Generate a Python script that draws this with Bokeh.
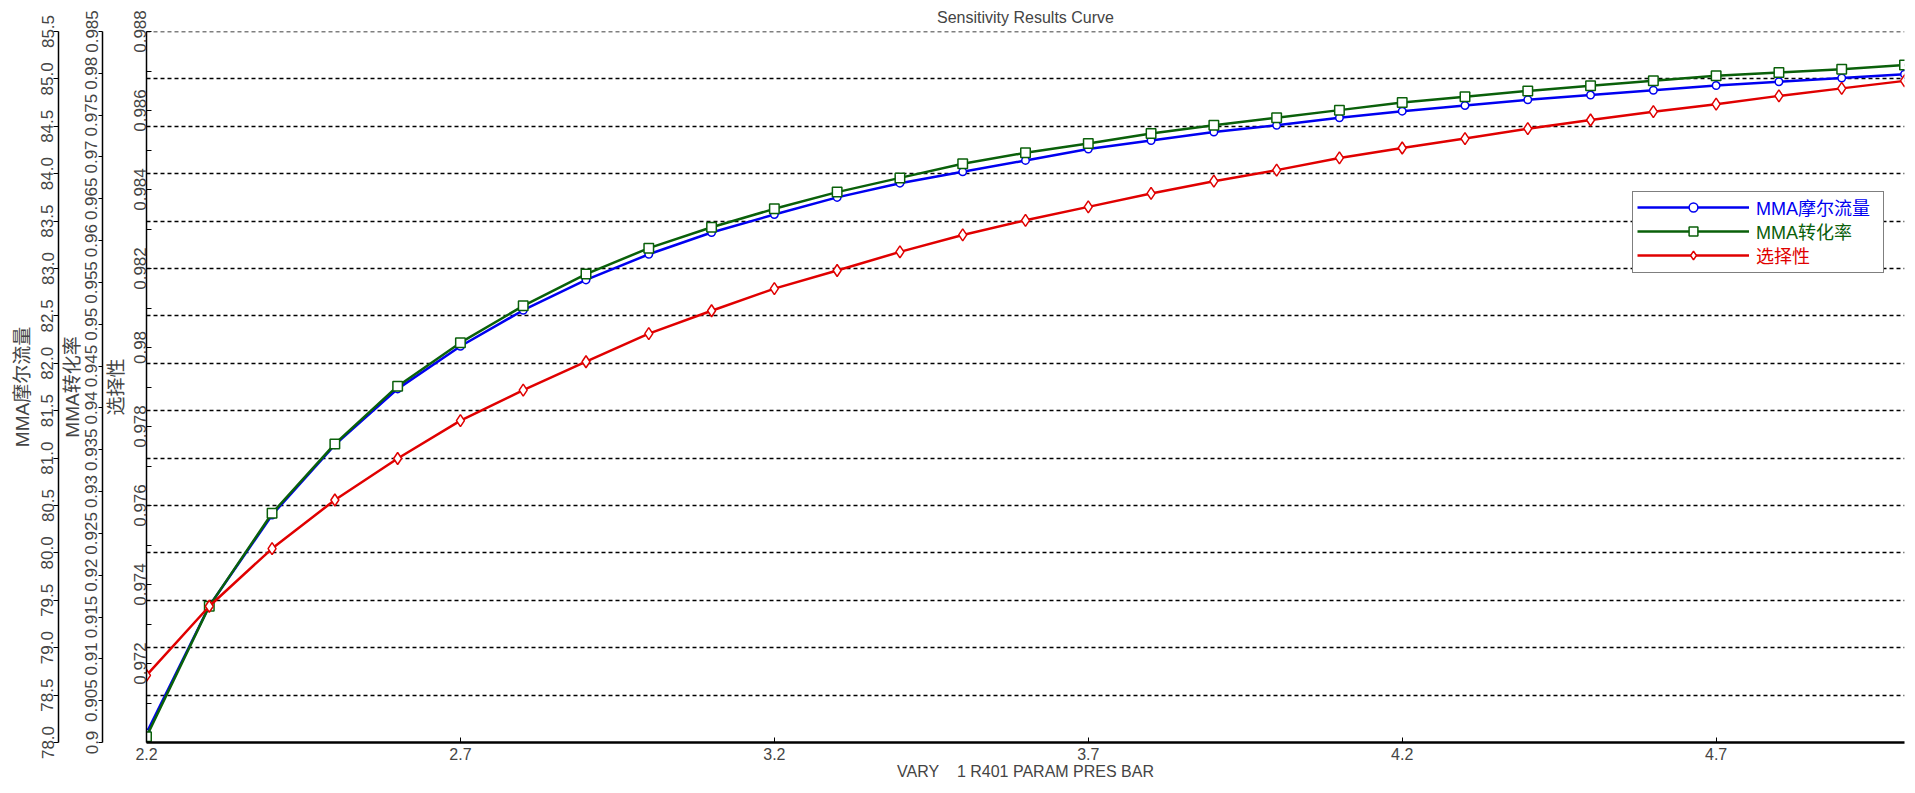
import numpy as np
from bokeh.plotting import figure
from bokeh.models import (Range1d, LinearAxis, FixedTicker, Grid, Legend, LegendItem, Span,
                          CustomJSTickFormatter, PrintfTickFormatter, ColumnDataSource)
from bokeh.embed import file_html
from bokeh.resources import INLINE

# ---------------- data ----------------
pressure = [2.2, 2.3, 2.4, 2.5, 2.6, 2.7, 2.8, 2.9, 3.0, 3.1, 3.2, 3.3, 3.4, 3.5, 3.6,
            3.7, 3.8, 3.9, 4.0, 4.1, 4.2, 4.3, 4.4, 4.5, 4.6, 4.7, 4.8, 4.9, 5.0]
mma_flow = [78.10, 79.44, 80.40, 81.14, 81.73, 82.18, 82.56, 82.88, 83.15, 83.38,
            83.57, 83.75, 83.90, 84.02, 84.14, 84.26, 84.35, 84.44, 84.51, 84.59,
            84.66, 84.72, 84.78, 84.83, 84.88, 84.93, 84.97, 85.01, 85.05]
mma_conversion = [0.9007, 0.9163, 0.9274, 0.9357, 0.9426, 0.9478, 0.9522, 0.9560,
                  0.9591, 0.9616, 0.9638, 0.9658, 0.9675, 0.9692, 0.9705, 0.9716,
                  0.9728, 0.9738, 0.9747, 0.9756, 0.9765, 0.9772, 0.9779, 0.9785,
                  0.9791, 0.9797, 0.9801, 0.9805, 0.9810]
selectivity = [0.97170, 0.97345, 0.97491, 0.97614, 0.97719, 0.97815, 0.97892, 0.97964,
               0.98035, 0.98093, 0.98149, 0.98195, 0.98242, 0.98285, 0.98322, 0.98356,
               0.98390, 0.98421, 0.98449, 0.98480, 0.98505, 0.98529, 0.98554, 0.98576,
               0.98597, 0.98616, 0.98637, 0.98656, 0.98675]

x_ticks = [2.2, 2.7, 3.2, 3.7, 4.2, 4.7]
flow_ticks = [78.0, 78.5, 79.0, 79.5, 80.0, 80.5, 81.0, 81.5, 82.0, 82.5, 83.0, 83.5,
              84.0, 84.5, 85.0, 85.5]
conv_ticks = [0.9, 0.905, 0.91, 0.915, 0.92, 0.925, 0.93, 0.935, 0.94, 0.945, 0.95,
              0.955, 0.96, 0.965, 0.97, 0.975, 0.98, 0.985]
sel_ticks = [0.972, 0.974, 0.976, 0.978, 0.98, 0.982, 0.984, 0.986, 0.988]
sel_minor_ticks = [0.971, 0.973, 0.975, 0.977, 0.979, 0.981, 0.983, 0.985, 0.987]

series_names = ["MMA摩尔流量", "MMA转化率", "选择性"]
title_text = "Sensitivity Results Curve"
x_label = "VARY\u00a0\u00a0\u00a0 1 R401 PARAM PRES BAR"

BLUE = "#0000f0"
GREEN = "#0a600a"
RED = "#e00000"
LATIN = "Liberation Sans"
MIXED = "Liberation Sans, Noto Sans CJK SC"

# ---------------- figure ----------------
p = figure(width=1915, height=793, output_backend="svg", toolbar_location=None,
           x_range=Range1d(2.2, 5.0), y_range=Range1d(78.0, 85.5),
           y_axis_location=None,
           min_border_left=146, min_border_right=11, min_border_top=31, min_border_bottom=51,
           outline_line_color=None, background_fill_color="white",
           border_fill_color="white")
p.extra_y_ranges = {"conv": Range1d(0.9, 0.985), "sel": Range1d(0.970, 0.988)}

p.title.text = title_text
p.title.align = "center"
p.title.text_font = LATIN
p.title.text_font_size = "16px"
p.title.text_font_style = "normal"
p.title.standoff = 12

p.xgrid.visible = False
p.ygrid.visible = False
GRID_STYLE = dict(line_color="black", line_dash="4 3", line_width=1.5)
grid = Grid(dimension=1, ticker=FixedTicker(ticks=flow_ticks), grid_line_color="black",
            grid_line_dash="4 3", grid_line_width=1.5)
p.add_layout(grid)
# Bokeh skips the grid line at the range end; draw the top one explicitly
p.add_layout(Span(location=flow_ticks[-1], dimension="width", **GRID_STYLE))

# x axis
xa = p.xaxis[0]
xa.ticker = FixedTicker(ticks=x_ticks)
xa.formatter = PrintfTickFormatter(format="%.1f")
xa.major_tick_in = 5
xa.major_tick_out = 0
xa.minor_tick_in = 0
xa.minor_tick_out = 0
xa.axis_line_width = 2.5
xa.major_label_text_font = LATIN
xa.major_label_text_font_size = "16px"
xa.major_label_standoff = 5
xa.axis_label = x_label
xa.axis_label_text_font = LATIN
xa.axis_label_text_font_size = "16px"
xa.axis_label_text_font_style = "normal"
xa.axis_label_standoff = 0

trim_fmt = CustomJSTickFormatter(code="return String(parseFloat(tick.toFixed(3)));")


def style_y(ax, tick_in, tick_out, lab_standoff, title_standoff):
    ax.major_label_orientation = "vertical"
    ax.major_label_text_font = LATIN
    ax.major_label_text_font_size = "17px"
    ax.major_tick_in = tick_in
    ax.major_tick_out = tick_out
    ax.minor_tick_in = tick_in
    ax.minor_tick_out = tick_out
    ax.major_label_standoff = lab_standoff
    ax.axis_label_standoff = title_standoff
    ax.axis_label_text_font = MIXED
    ax.axis_label_text_font_size = "19px"
    ax.axis_label_text_font_style = "normal"
    ax.axis_line_width = 1.5


sel_axis = LinearAxis(y_range_name="sel",
                      ticker=FixedTicker(ticks=sel_ticks, minor_ticks=sel_minor_ticks),
                      formatter=trim_fmt, axis_label=series_names[2])
style_y(sel_axis, 5, 0, 1, 4)
p.add_layout(sel_axis, "left")

conv_axis = LinearAxis(y_range_name="conv", ticker=FixedTicker(ticks=conv_ticks),
                       formatter=trim_fmt, axis_label=series_names[1])
style_y(conv_axis, 0, 4, 1, 0)
p.add_layout(conv_axis, "left")

flow_axis = LinearAxis(ticker=FixedTicker(ticks=flow_ticks),
                       formatter=PrintfTickFormatter(format="%.1f"),
                       axis_label=series_names[0])
style_y(flow_axis, 0, 5, 0, 6)
p.add_layout(flow_axis, "left")

# ---------------- series ----------------
src = ColumnDataSource(dict(p=pressure, flow=mma_flow, conv=mma_conversion, sel=selectivity))

bl = p.line("p", "flow", source=src, line_color=BLUE, line_width=2.5)
bm = p.scatter("p", "flow", source=src, marker="circle", size=7.5, line_color=BLUE,
               fill_color="white", line_width=1.5)
gl = p.line("p", "conv", source=src, y_range_name="conv", line_color=GREEN, line_width=2.5)
gm = p.scatter("p", "conv", source=src, y_range_name="conv", marker="square", size=9.5,
               line_color=GREEN, fill_color="white", line_width=1.5)
rl = p.line("p", "sel", source=src, y_range_name="sel", line_color=RED, line_width=2.5)
rm = p.scatter("p", "sel", source=src, y_range_name="sel", marker="diamond", size=12,
               line_color=RED, fill_color="white", line_width=1.5)

# ---------------- legend ----------------
LEG_X, LEG_Y = 1486, 469
PAD, SPACE, ROW_H = 5, 2, 22
common = dict(padding=PAD, spacing=SPACE, glyph_width=112, glyph_height=ROW_H,
              label_height=ROW_H, label_width=121, label_standoff=7, margin=0,
              label_text_font=MIXED, label_text_font_size="18px")

dummies = [p.line(x=[], y=[], line_alpha=0) for _ in range(3)]
box = Legend(items=[LegendItem(label=" ", renderers=[d]) for d in dummies],
             location=(LEG_X, LEG_Y), border_line_color="black", border_line_width=1,
             background_fill_color="white", background_fill_alpha=1.0, **common)
p.add_layout(box)

total_h = 2 * PAD + 3 * ROW_H + 2 * SPACE
single_h = 2 * PAD + ROW_H
for k, (name, rends, col) in enumerate(zip(series_names,
                                           [[bl, bm], [gl, gm], [rl, rm]],
                                           [BLUE, GREEN, RED])):
    lg = Legend(items=[LegendItem(label=name, renderers=rends)],
                location=(LEG_X, LEG_Y + total_h - k * (ROW_H + SPACE) - single_h),
                border_line_alpha=0, background_fill_alpha=0,
                label_text_color=col, **common)
    p.add_layout(lg)

open("out.html", "w").write(file_html(p, INLINE))
